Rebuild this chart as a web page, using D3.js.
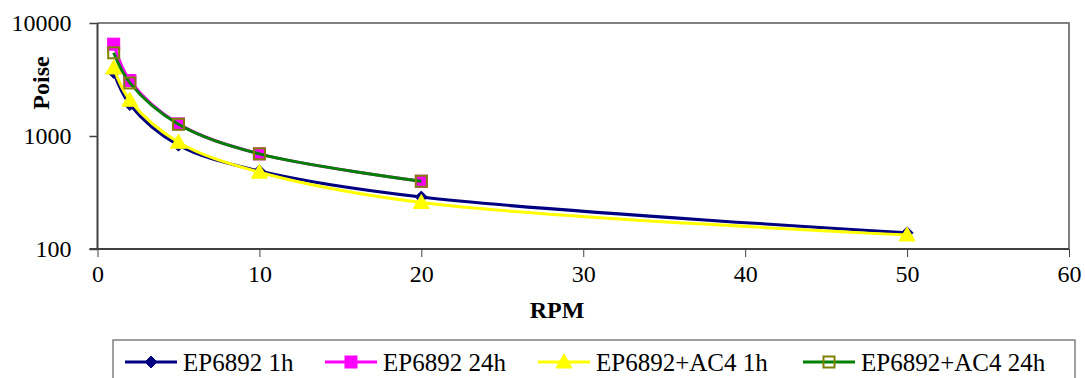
<!DOCTYPE html>
<html>
<head>
<meta charset="utf-8">
<script src="https://cdn.jsdelivr.net/npm/d3@7/dist/d3.min.js"></script>
<style>
  html, body { margin: 0; padding: 0; background: #fff; }
  svg { display: block; }
  text { font-family: "Liberation Serif", "Times New Roman", serif; fill: #000; }
</style>
</head>
<body>
<svg id="chart" width="1085" height="378"></svg>
<script>
// ---- data ----
const rpm = [1, 2, 5, 10, 20, 50];
const rpm24 = [1, 2, 5, 10, 20];
const ep1h = [3650, 1900, 830, 490, 288, 139];
const ep24h = [6500, 3100, 1280, 695, 398];
const ac1h = [4000, 2070, 880, 478, 258, 133];
const ac24h = [5450, 2950, 1270, 695, 398];
const seriesNames = ["EP6892 1h", "EP6892 24h", "EP6892+AC4 1h", "EP6892+AC4 24h"];
const xTicks = [0, 10, 20, 30, 40, 50, 60];
const yTicks = [100, 1000, 10000];

const series = [
  { name: seriesNames[0], xs: rpm, ys: ep1h, color: "#000080", marker: "diamond" },
  { name: seriesNames[1], xs: rpm24, ys: ep24h, color: "#FF00FF", marker: "square" },
  { name: seriesNames[2], xs: rpm, ys: ac1h, color: "#FFFF00", marker: "triangle" },
  { name: seriesNames[3], xs: rpm24, ys: ac24h, color: "#008000", marker: "open" }
];

const svg = d3.select("#chart");
const L = 97.5, R = 1069, T = 23, B = 249;
const x = d3.scaleLinear().domain([0, 60]).range([L, R]);
const y = d3.scaleLog().domain([100, 10000]).range([B, T]);

// plot border (top & right)
svg.append("path")
  .attr("d", `M${L},${T}H${R}V${B}`)
  .attr("fill", "none").attr("stroke", "#808080").attr("stroke-width", 2);

// axes
const xAxis = d3.axisBottom(x).tickValues(xTicks).tickSize(8).tickPadding(8).tickFormat(d3.format("d"));
const gx = svg.append("g").attr("transform", `translate(0,${B})`).call(xAxis);
gx.select(".domain").attr("stroke", "#404040").attr("stroke-width", 2).attr("d", `M${L - 8},0H${R}`);
gx.selectAll(".tick line").attr("stroke", "#404040").attr("stroke-width", 1);
gx.selectAll(".tick text").attr("font-family", "Liberation Serif").attr("font-size", 24).attr("fill", "#000");

const yAxis = d3.axisLeft(y).tickValues(yTicks).tickSize(8).tickPadding(18).tickFormat(d3.format("d"));
const gy = svg.append("g").attr("transform", `translate(${L},0)`).call(yAxis);
gy.select(".domain").attr("stroke", "#404040").attr("stroke-width", 2).attr("d", `M0,${T}V${B}`);
gy.selectAll(".tick line").attr("stroke", "#404040").attr("stroke-width", 1.5);
gy.selectAll(".tick text").attr("font-family", "Liberation Serif").attr("font-size", 24).attr("fill", "#000");

// axis titles
svg.append("text").attr("x", 557).attr("y", 318).attr("text-anchor", "middle")
  .attr("font-size", 24).attr("font-weight", "bold").text("RPM");
svg.append("text").attr("transform", "translate(49,83) rotate(-90)").attr("text-anchor", "middle")
  .attr("font-size", 24).attr("font-weight", "bold").text("Poise");

// marker drawing
function drawMarker(g, type, cx, cy, color) {
  if (type === "diamond") {
    g.append("path").attr("d", `M${cx},${cy - 6}L${cx + 6},${cy}L${cx},${cy + 6}L${cx - 6},${cy}Z`)
      .attr("fill", "#000080").attr("stroke", "#000080").attr("stroke-width", 1);
  } else if (type === "square") {
    g.append("rect").attr("x", cx - 6).attr("y", cy - 6).attr("width", 12).attr("height", 12)
      .attr("fill", "#FF00FF").attr("stroke", "#FF00FF").attr("stroke-width", 1);
  } else if (type === "triangle") {
    g.append("path").attr("d", `M${cx},${cy - 8}L${cx + 8},${cy + 6}L${cx - 8},${cy + 6}Z`)
      .attr("fill", "#FFFF00").attr("stroke", "#FFFF00").attr("stroke-width", 1);
  } else if (type === "open") {
    g.append("rect").attr("x", cx - 5.5).attr("y", cy - 5.5).attr("width", 11).attr("height", 11)
      .attr("fill", "none").attr("stroke", "#808000").attr("stroke-width", 2);
  }
}

const line = d3.line().x(d => x(d[0])).y(d => y(d[1])).curve(d3.curveCatmullRom.alpha(0.5));
series.forEach(s => {
  const g = svg.append("g");
  const pts = s.xs.map((v, i) => [v, s.ys[i]]);
  g.append("path").datum(pts).attr("d", line)
    .attr("fill", "none").attr("stroke", s.color).attr("stroke-width", 3);
  pts.forEach(p => drawMarker(g, s.marker, x(p[0]), y(p[1]), s.color));
});

// legend
const lg = svg.append("g");
lg.append("rect").attr("x", 113).attr("y", 340).attr("width", 962).attr("height", 60)
  .attr("fill", "#fff").attr("stroke", "#808080").attr("stroke-width", 1.5);
const legendPos = [125, 325, 538, 803];
series.forEach((s, i) => {
  const lx = legendPos[i], ly = 362;
  lg.append("line").attr("x1", lx).attr("x2", lx + 52).attr("y1", ly).attr("y2", ly)
    .attr("stroke", s.color).attr("stroke-width", 3);
  drawMarker(lg, s.marker, lx + 26, ly, s.color);
  lg.append("text").attr("x", lx + 58).attr("y", 371).attr("font-size", 25).text(s.name);
});
</script>
</body>
</html>
